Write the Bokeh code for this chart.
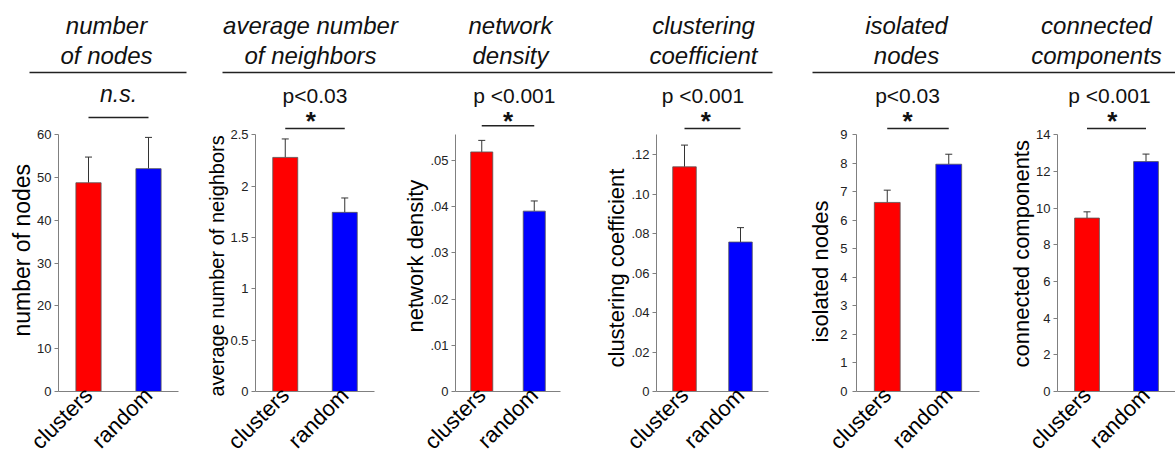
import math
from bokeh.plotting import figure
from bokeh.layouts import row, column
from bokeh.models import (FactorRange, Range1d, FixedTicker, ColumnDataSource,
                          Whisker, TeeHead, Title)
from bokeh.transform import dodge
from bokeh.core.properties import value
from bokeh.embed import file_html
from bokeh.resources import INLINE

# ---------------- data ----------------
CATEGORIES = ["clusters", "random"]
BAR_COLORS = ["#ff0000", "#0000ff"]

TITLES = [["number", "of nodes"],
          ["average number", "of neighbors"],
          ["network", "density"],
          ["clustering", "coefficient"],
          ["isolated", "nodes"],
          ["connected", "components"]]
Y_LABELS = ["number of nodes", "average number of neighbors", "network density",
            "clustering coefficient", "isolated nodes", "connected components"]
SIG_LABELS = ["n.s.", "p<0.03", "p <0.001", "p <0.001", "p<0.03", "p <0.001"]
SIG_STARS = ["", "*", "*", "*", "*", "*"]

nodes_mean = [48.8, 52.1]
nodes_err = [6.0, 7.3]
neighbors_mean = [2.28, 1.745]
neighbors_err = [0.18, 0.14]
density_mean = [0.0518, 0.0390]
density_err = [0.0025, 0.0022]
clustering_mean = [0.1138, 0.0757]
clustering_err = [0.011, 0.0073]
isolated_mean = [6.63, 7.97]
isolated_err = [0.43, 0.35]
components_mean = [9.46, 12.54]
components_err = [0.34, 0.41]

MEANS = [nodes_mean, neighbors_mean, density_mean, clustering_mean, isolated_mean, components_mean]
ERRS = [nodes_err, neighbors_err, density_err, clustering_err, isolated_err, components_err]

TICKS = [[0, 10, 20, 30, 40, 50, 60],
         [0, 0.5, 1, 1.5, 2, 2.5],
         [0, 0.01, 0.02, 0.03, 0.04, 0.05],
         [0, 0.02, 0.04, 0.06, 0.08, 0.10, 0.12],
         [0, 1, 2, 3, 4, 5, 6, 7, 8, 9],
         [0, 2, 4, 6, 8, 10, 12, 14]]
TICK_LABELS = [["0", "10", "20", "30", "40", "50", "60"],
               ["0", "0.5", "1", "1.5", "2", "2.5"],
               ["0", ".01", ".02", ".03", ".04", ".05"],
               ["0", ".02", ".04", ".06", ".08", ".10", ".12"],
               ["0", "1", "2", "3", "4", "5", "6", "7", "8", "9"],
               ["0", "2", "4", "6", "8", "10", "12", "14"]]
AXIS_TOPS = [60, 2.5, 0.0555, 0.13, 9, 14]

# ---------------- layout / style ----------------
FONT = value("Liberation Sans")
HEADROOM = 1.2
# (figure width, left border, frame width)
PANEL_BOX = [(200, 58, 120), (200, 55, 119), (200, 53, 107),
             (200, 56, 112), (200, 53, 126), (175, 57, 118)]
YLABEL_SIZE = ["23px", "20px", "22px", "22px", "22px", "22px"]
YLABEL_START = [55, -5, 59, 24, 49, 24]     # px above the frame bottom where the text starts
YLABEL_STANDOFF = [0, 0, 0, 0, 10, 0]
YTICK_STANDOFF = [3, 3, 3, 3, 5, 3]
LABEL_SHIFT = [0.0, 0.0, 0.12, -0.17, -0.17, -0.12]
STAR_SHIFT = [0.0, -0.07, 0.0, -0.12, -0.17, -0.07]
LABEL_Y = [1.16, 1.155, 1.155, 1.155, 1.155, 1.155]
STAR_Y = 1.054
BRACKET_Y = [1.068, 1.025, 1.035, 1.025, 1.025, 1.025]
TITLE_X = [106, 310, 510, 703, 906, 1096]
TITLE_Y = [25, 55]
GROUP_LINES = [(29, 186), (222, 772), (812, 1175)]
HEADER_H = 74
PANEL_H = 391
BORDER_TOP = 9
BORDER_BOTTOM = 73
AXIS_GRAY = "#808080"

# ---------------- header ----------------
header = figure(width=1175, height=HEADER_H, x_range=Range1d(0, 1175),
                y_range=Range1d(HEADER_H, 0), output_backend="svg",
                toolbar_location=None, min_border=0, outline_line_color=None)
header.axis.visible = False
header.grid.visible = False
for k in range(2):
    header.text(x=TITLE_X, y=[TITLE_Y[k]] * 6, text=[t[k] for t in TITLES],
                text_font=FONT, text_font_size="24px", text_font_style="italic",
                text_align="center", text_baseline="alphabetic", text_color="#111111")
header.segment(x0=[g[0] for g in GROUP_LINES], x1=[g[1] for g in GROUP_LINES],
               y0=[72] * 3, y1=[72] * 3, line_color="#222222", line_width=1.5)

# ---------------- panels ----------------
figs = []
for i in range(6):
    w, bl, fw = PANEL_BOX[i]
    top = AXIS_TOPS[i]
    p = figure(width=w, height=PANEL_H, x_range=FactorRange(*CATEGORIES),
               y_range=Range1d(0, top * HEADROOM), output_backend="svg",
               toolbar_location=None, min_border_left=bl,
               min_border_right=w - bl - fw,
               min_border_top=BORDER_TOP, min_border_bottom=BORDER_BOTTOM,
               outline_line_color=None)
    p.grid.visible = False

    src = ColumnDataSource(dict(x=CATEGORIES, mean=MEANS[i],
                                top=[m + e for m, e in zip(MEANS[i], ERRS[i])],
                                color=BAR_COLORS))
    p.add_layout(Whisker(source=src, base="x", lower="mean", upper="top",
                         dimension="height", line_color="#333333", line_width=1,
                         upper_head=TeeHead(size=7, line_color="#333333", line_width=1),
                         lower_head=None))
    p.vbar(x="x", top="mean", width=0.42, source=src, fill_color="color",
           line_color="#555555", line_width=0.8)

    # significance annotation
    lab = ColumnDataSource(dict(x=["clusters"], y=[top * LABEL_Y[i]], t=[SIG_LABELS[i]]))
    p.text(x=dodge("x", 0.5 + LABEL_SHIFT[i], range=p.x_range), y="y", text="t",
           source=lab, text_font=FONT,
           text_font_size="23px" if i == 0 else "21px",
           text_font_style="italic" if i == 0 else "normal",
           text_align="center", text_baseline="alphabetic", text_color="#111111")
    if SIG_STARS[i]:
        st = ColumnDataSource(dict(x=["clusters"], y=[top * STAR_Y], t=[SIG_STARS[i]]))
        p.text(x=dodge("x", 0.5 + STAR_SHIFT[i], range=p.x_range), y="y", text="t",
               source=st, text_font=FONT, text_font_size="26px",
               text_font_style="bold", text_align="center",
               text_baseline="alphabetic", text_color="#111111")
    by = top * BRACKET_Y[i]
    p.segment(x0=[CATEGORIES[0]], x1=[CATEGORIES[1]], y0=[by], y1=[by],
              line_color="#222222", line_width=1.5)

    # y axis
    ya = p.yaxis[0]
    ya.ticker = FixedTicker(ticks=TICKS[i])
    ya.major_label_overrides = {t: l for t, l in zip(TICKS[i], TICK_LABELS[i])}
    ya.bounds = (0, top)
    ya.major_label_standoff = YTICK_STANDOFF[i]
    ya.major_label_text_font = "Liberation Sans"
    ya.major_label_text_font_size = "13px"
    ya.major_label_text_color = "#222222"
    ya.axis_line_color = AXIS_GRAY
    ya.major_tick_line_color = AXIS_GRAY
    ya.major_tick_out = 4
    ya.major_tick_in = 0
    ya.minor_tick_line_color = None

    # y axis title as a side title, started at a given height along the axis
    p.add_layout(Title(text=Y_LABELS[i], align="left", offset=YLABEL_START[i],
                       standoff=YLABEL_STANDOFF[i], text_font="Liberation Sans",
                       text_font_size=YLABEL_SIZE[i], text_font_style="normal",
                       text_color="black"), "left")

    # x axis
    xa = p.xaxis[0]
    xa.major_label_orientation = math.pi / 4
    xa.major_label_text_font = "Liberation Sans"
    xa.major_label_text_font_size = "22px"
    xa.major_label_text_color = "black"
    xa.major_label_standoff = 0
    xa.major_tick_line_color = None
    xa.major_tick_out = 0
    xa.axis_line_color = AXIS_GRAY

    figs.append(p)

layout = column(header, row(*figs, spacing=0), spacing=0)
open("out.html", "w").write(file_html(layout, INLINE))
